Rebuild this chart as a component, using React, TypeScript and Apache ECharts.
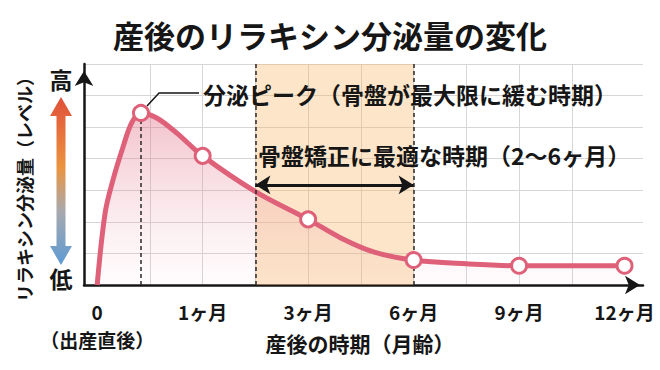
import React, { useEffect, useRef } from 'react';
import * as echarts from 'echarts';

const titleText = '産後のリラキシン分泌量の変化';
const yName = 'リラキシン分泌量（レベル）';
const xName = '産後の時期（月齢）';
const highLabel = '高';
const lowLabel = '低';
const peakNote = '分泌ピーク（骨盤が最大限に緩む時期）';
const bandNote = '骨盤矯正に最適な時期（2〜6ヶ月）';

// x positions on an index scale: 0 = birth, 2 = 1ヶ月, 4 = 3ヶ月, 6 = 6ヶ月, 8 = 9ヶ月, 10 = 12ヶ月
const curveX = [0, 0.15, 0.3, 0.49, 0.66, 0.83, 1.13, 1.51, 2, 3, 4, 4.61, 5.24, 6, 7, 8, 10];
const curveY = [0, 2.28, 3.33, 4.37, 5.16, 5.45, 5.29, 4.81, 4.09, 2.96, 2.08, 1.5, 1.05, 0.79, 0.67, 0.61, 0.61];

const markerX = [0.83, 2, 4, 6, 8, 10];
const markerY = [5.45, 4.09, 2.08, 0.79, 0.61, 0.61];

const gridTicks = [0, 1, 2, 3, 4, 5, 6, 7, 8, 9, 10];
const labelTicks = [0, 2, 4, 6, 8, 10];
const tickLabels = ['0\n（出産直後）', '1ヶ月', '3ヶ月', '6ヶ月', '9ヶ月', '12ヶ月'];

const bandStart = 3; // 2ヶ月
const bandEnd = 6; // 6ヶ月
const peakX = 0.83;
const peakY = 5.45;
const arrowLevel = 3.17;

const FONT = '"Noto Sans CJK JP", "Noto Sans", sans-serif';
const PINK = '#de6179';
const INK = '#161616';

export default function App() {
  const ref = useRef<HTMLDivElement>(null);
  useEffect(() => {
    const chart = echarts.init(ref.current as HTMLDivElement, null, { renderer: 'svg' });
    const option: any = {
      animation: false,
      backgroundColor: '#ffffff',
      grid: { left: 84, right: 17, top: 64, bottom: 85, containLabel: false },
      xAxis: {
        type: 'value',
        min: -0.25,
        max: 10.35,
        axisLine: {
          show: true,
          onZero: false,
          lineStyle: { color: INK, width: 2.5 },
          symbol: ['none', 'arrow'],
          symbolSize: [14, 15],
          symbolOffset: [0, -3],
        },
        axisTick: { show: false, customValues: gridTicks },
        splitLine: { show: true, showMinLine: false, showMaxLine: false, lineStyle: { color: '#d6d6d6', width: 1 } },
        axisLabel: {
          customValues: labelTicks,
          formatter: (v: number) => {
            const i = labelTicks.indexOf(v);
            return i >= 0 ? tickLabels[i] : '';
          },
          color: INK,
          fontSize: 19,
          fontWeight: 'bold',
          fontFamily: FONT,
          lineHeight: 28,
          margin: 12,
        },
      },
      yAxis: {
        type: 'value',
        min: 0,
        max: 7,
        interval: 1,
        axisLine: {
          show: true,
          onZero: false,
          lineStyle: { color: INK, width: 2.5 },
          symbol: ['none', 'arrow'],
          symbolSize: [14, 15],
          symbolOffset: [0, -7],
        },
        axisTick: { show: false },
        axisLabel: { show: false },
        splitLine: { show: true, lineStyle: { color: '#d6d6d6', width: 1 } },
      },
      series: [
        {
          type: 'line',
          data: curveX.map((x, i) => [x, curveY[i]]),
          smooth: 0.35,
          symbol: 'none',
          showSymbol: false,
          lineStyle: { color: PINK, width: 5 },
          areaStyle: {
            color: new echarts.graphic.LinearGradient(0, 0, 0, 1, [
              { offset: 0, color: 'rgba(222,97,121,0.55)' },
              { offset: 1, color: 'rgba(240,170,185,0.05)' },
            ]),
          },
          markArea: {
            silent: true,
            itemStyle: { color: 'rgba(245,180,100,0.35)' },
            data: [[{ xAxis: bandStart }, { xAxis: bandEnd }]],
          },
          markLine: {
            silent: true,
            symbol: 'none',
            label: { show: false },
            lineStyle: { color: '#2a2a2a', type: [4, 3], width: 1.5 },
            data: [
              [{ coord: [peakX, 0] }, { coord: [peakX, peakY] }],
              { xAxis: bandStart },
              { xAxis: bandEnd },
            ],
          },
          z: 2,
        },
        {
          type: 'scatter',
          data: markerX.map((x, i) => [x, markerY[i]]),
          symbol: 'circle',
          symbolSize: 15,
          itemStyle: { color: '#ffffff', borderColor: PINK, borderWidth: 3, opacity: 1 },
          z: 5,
          markLine: {
            silent: true,
            symbol: ['arrow', 'arrow'],
            symbolSize: [14, 15],
            label: { show: false },
            lineStyle: { color: INK, width: 3, type: 'solid' },
            data: [[{ coord: [bandStart, arrowLevel] }, { coord: [bandEnd, arrowLevel] }]],
          },
        },
      ],
      graphic: [
        {
          type: 'text',
          x: 330,
          y: 34,
          style: { text: titleText, fill: INK, fontSize: 31, fontWeight: 'bold', fontFamily: FONT, align: 'center', verticalAlign: 'middle' },
        },
        {
          type: 'text',
          x: 24,
          y: 185,
          rotation: Math.PI / 2,
          style: { text: yName, fill: INK, fontSize: 18, fontWeight: 'bold', fontFamily: FONT, align: 'center', verticalAlign: 'middle' },
        },
        {
          type: 'text',
          x: 61,
          y: 79,
          style: { text: highLabel, fill: INK, fontSize: 23, fontWeight: 'bold', fontFamily: FONT, align: 'center', verticalAlign: 'middle' },
        },
        {
          type: 'text',
          x: 61,
          y: 278,
          style: { text: lowLabel, fill: INK, fontSize: 23, fontWeight: 'bold', fontFamily: FONT, align: 'center', verticalAlign: 'middle' },
        },
        {
          type: 'polygon',
          shape: {
            points: [
              [61, 97], [72, 116], [65.5, 116], [65.5, 246], [72, 246], [61, 265],
              [50, 246], [56.5, 246], [56.5, 116], [50, 116],
            ],
          },
          style: {
            fill: new echarts.graphic.LinearGradient(0, 0, 0, 1, [
              { offset: 0, color: '#e0503a' },
              { offset: 0.42, color: '#eb9440' },
              { offset: 0.68, color: '#a8a9ae' },
              { offset: 1, color: '#5c9ad4' },
            ]),
          },
        },
        {
          type: 'polyline',
          shape: { points: [[147, 106], [159, 93], [199, 93]] },
          style: { stroke: INK, lineWidth: 1.5, fill: null },
          z: 10,
        },
        {
          type: 'text',
          x: 203,
          y: 94,
          style: { text: peakNote, fill: INK, fontSize: 23, fontWeight: 'bold', fontFamily: FONT, align: 'left', verticalAlign: 'middle' },
          z: 10,
        },
        {
          type: 'text',
          x: 258,
          y: 155,
          style: { text: bandNote, fill: INK, fontSize: 23, fontWeight: 'bold', fontFamily: FONT, align: 'left', verticalAlign: 'middle' },
          z: 10,
        },
        {
          type: 'text',
          x: 360,
          y: 343,
          style: { text: xName, fill: INK, fontSize: 21, fontWeight: 'bold', fontFamily: FONT, align: 'center', verticalAlign: 'middle' },
        },
      ],
    };
    chart.setOption(option);
    return () => chart.dispose();
  }, []);
  return <div ref={ref} style={{ position: 'fixed', left: 0, top: 0, width: 660, height: 370 }} />;
}
